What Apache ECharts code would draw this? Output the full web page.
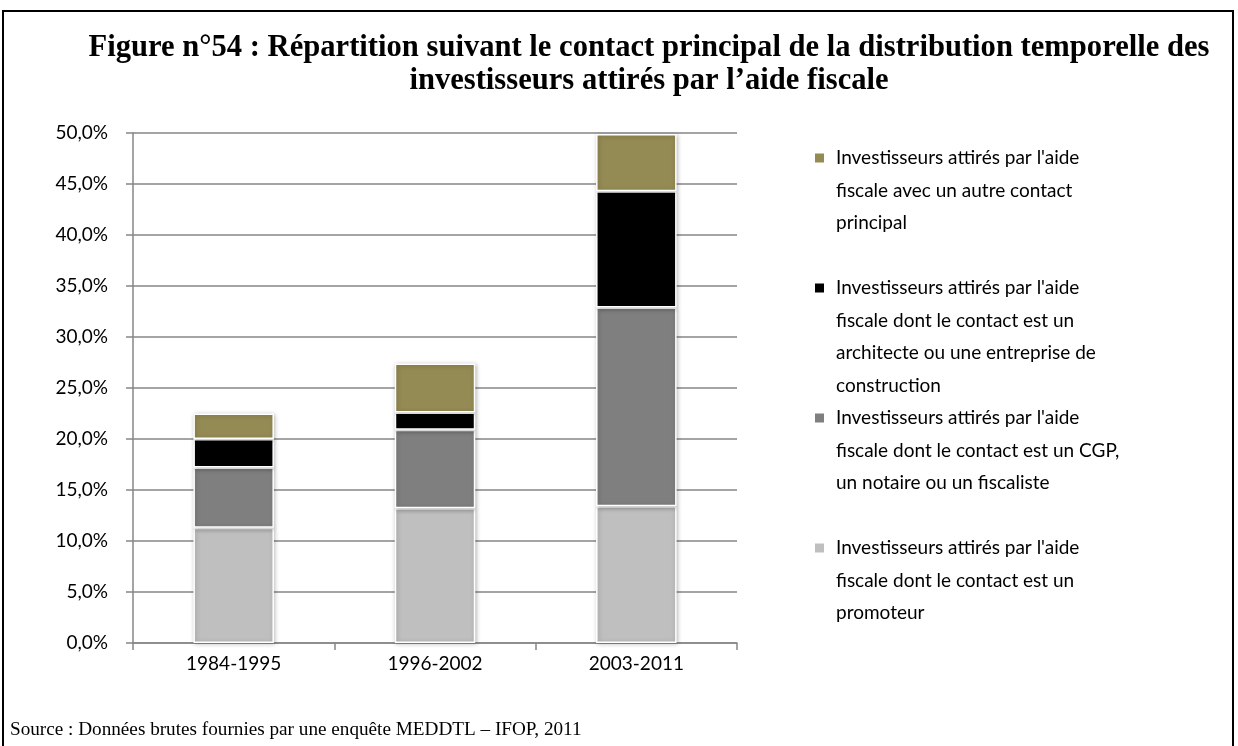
<!DOCTYPE html>
<html>
<head>
<meta charset="utf-8">
<script src="https://cdn.jsdelivr.net/npm/echarts@6/dist/echarts.min.js"></script>
<style>
  html, body { margin: 0; padding: 0; background: #fff; }
  #chart { width: 1238px; height: 746px; }
</style>
</head>
<body>
<div id="chart"></div>
<script>
var chart = echarts.init(document.getElementById('chart'));

const categories = ['1984-1995', '1996-2002', '2003-2011'];

// valeurs en %, empilées de bas en haut
const promoteur = [11.3, 13.2, 13.4];
const cgp = [5.9, 7.7, 19.5];
const architecte = [2.8, 1.7, 11.4];
const autre = [2.5, 4.8, 5.6];

const names = [
	"Investisseurs attirés par l'aide fiscale dont le contact est un promoteur",
	"Investisseurs attirés par l'aide fiscale dont le contact est un CGP, un notaire ou un fiscaliste",
	"Investisseurs attirés par l'aide fiscale dont le contact est un architecte ou une entreprise de construction",
	"Investisseurs attirés par l'aide fiscale avec un autre contact principal"
];

// texte de légende coupé comme dans l'original
const legendLines = {};
legendLines[names[3]] = "Investisseurs attirés par l'aide\nfiscale avec un autre contact\nprincipal\n ";
legendLines[names[2]] = "Investisseurs attirés par l'aide\nfiscale dont le contact est un\narchitecte ou une entreprise de\nconstruction";
legendLines[names[1]] = "Investisseurs attirés par l'aide\nfiscale dont le contact est un CGP,\nun notaire ou un fiscaliste\n ";
legendLines[names[0]] = "Investisseurs attirés par l'aide\nfiscale dont le contact est un\npromoteur\n ";

const colors = ['#BFBFBF', '#7F7F7F', '#000000', '#948A54'];
const values = [promoteur, cgp, architecte, autre];

var series = [];
names.forEach(function (name, idx) {
	series.push({
		name: name,
		type: 'bar',
		stack: 'total',
		barWidth: '40%',
		data: values[idx],
		itemStyle: {
			color: colors[idx],
			borderColor: '#ffffff',
			borderWidth: 1.5,
			shadowBlur: 4,
			shadowOffsetX: 1,
			shadowOffsetY: 1,
			shadowColor: 'rgba(0,0,0,0.25)'
		},
		emphasis: { disabled: true }
	});
});

var axisFont = 'Lato';

var option = {
	backgroundColor: '#ffffff',
	animation: false,
	title: [{
		text: 'Figure n°54 : Répartition suivant le contact principal de la distribution temporelle des\ninvestisseurs attirés par l\u2019aide fiscale',
		left: 649,
		top: 32,
		padding: 0,
		textAlign: 'center',
		textStyle: {
			fontFamily: 'Liberation Serif',
			fontWeight: 'bold',
			fontSize: 30.6,
			lineHeight: 33,
			color: '#000'
		}
	}, {
		text: 'Source : Données brutes fournies par une enquête MEDDTL \u2013 IFOP, 2011',
		left: 10,
		top: 720,
		padding: 0,
		textStyle: {
			fontFamily: 'Liberation Serif',
			fontWeight: 'normal',
			fontSize: 19.2,
			color: '#000'
		}
	}],
	graphic: [{
		type: 'rect',
		shape: { x: 3, y: 11, width: 1230, height: 760 },
		style: { fill: 'none', stroke: '#000', lineWidth: 2 },
		silent: true
	}],
	grid: {
		left: 133,
		right: 501,
		top: 133,
		bottom: 103
	},
	legend: {
		orient: 'vertical',
		left: 813,
		top: 141,
		padding: 0,
		itemGap: -2,
		itemWidth: 17,
		itemHeight: 130,
		icon: 'path://M0,0M0,10.5h11v11h-11zM17,130',
		selectedMode: false,
		data: [names[3], names[2], names[1], names[0]],
		formatter: function (name) { return legendLines[name]; },
		textStyle: {
			fontFamily: axisFont,
			fontSize: 19,
			lineHeight: 32.5,
			color: '#000'
		}
	},
	xAxis: {
		type: 'category',
		data: categories,
		axisLine: { lineStyle: { color: '#868686', width: 1.5 } },
		axisTick: { show: true, length: 7, lineStyle: { color: '#868686', width: 1.5 } },
		axisLabel: {
			margin: 11,
			fontFamily: axisFont,
			fontSize: 19,
			color: '#000'
		}
	},
	yAxis: {
		type: 'value',
		min: 0,
		max: 50,
		interval: 5,
		axisLine: { show: true, lineStyle: { color: '#868686', width: 1.5 } },
		axisTick: { show: true, length: 7, lineStyle: { color: '#868686', width: 1.5 } },
		splitLine: { lineStyle: { color: '#868686', width: 1.5 } },
		axisLabel: {
			margin: 25,
			fontFamily: axisFont,
			fontSize: 19,
			color: '#000',
			formatter: function (v) { return v.toFixed(1).replace('.', ',') + '%'; }
		}
	},
	series: series
};

chart.setOption(option);
</script>
</body>
</html>
